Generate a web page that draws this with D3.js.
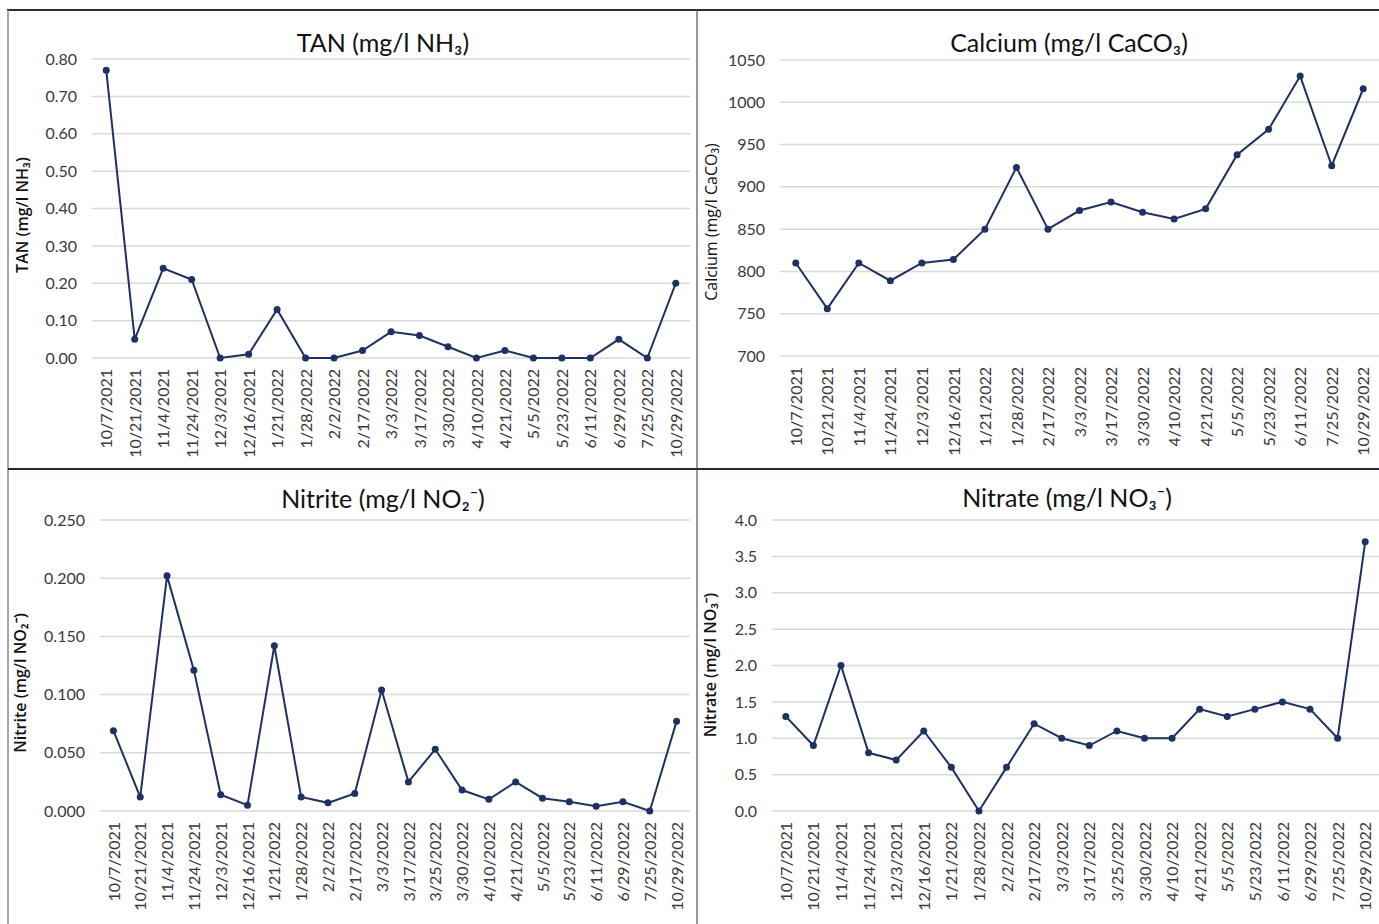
<!DOCTYPE html>
<html>
<head>
<meta charset="utf-8">
<script src="https://cdn.jsdelivr.net/npm/d3@7"></script>
<style>
  body { margin: 0; background: #fff; }
  svg { display: block; }
  .tick text { font-family: Lato, "Open Sans", sans-serif; font-size: 16px; fill: #3a3a3a; }
  .chart-title { font-family: Lato, "Open Sans", sans-serif; font-size: 25px; fill: #111; }
  .y-title { font-family: "Open Sans", sans-serif; font-size: 16px; fill: #111; }
</style>
</head>
<body>
<div id="chart"></div>
<script>
// sample dates for each panel
var datesTAN = ["10/7/2021","10/21/2021","11/4/2021","11/24/2021","12/3/2021","12/16/2021","1/21/2022","1/28/2022","2/2/2022","2/17/2022","3/3/2022","3/17/2022","3/30/2022","4/10/2022","4/21/2022","5/5/2022","5/23/2022","6/11/2022","6/29/2022","7/25/2022","10/29/2022"];
var tanValues = [0.77,0.05,0.24,0.21,0.00,0.01,0.13,0.00,0.00,0.02,0.07,0.06,0.03,0.00,0.02,0.00,0.00,0.00,0.05,0.00,0.20];
var tanTicks = [0,0.1,0.2,0.3,0.4,0.5,0.6,0.7,0.8];

var datesCalcium = ["10/7/2021","10/21/2021","11/4/2021","11/24/2021","12/3/2021","12/16/2021","1/21/2022","1/28/2022","2/17/2022","3/3/2022","3/17/2022","3/30/2022","4/10/2022","4/21/2022","5/5/2022","5/23/2022","6/11/2022","7/25/2022","10/29/2022"];
var calciumValues = [810,756,810,789,810,814,850,923,850,872,882,870,862,874,938,968,1031,925,1016];
var calciumTicks = [700,750,800,850,900,950,1000,1050];

var datesNitrite = ["10/7/2021","10/21/2021","11/4/2021","11/24/2021","12/3/2021","12/16/2021","1/21/2022","1/28/2022","2/2/2022","2/17/2022","3/3/2022","3/17/2022","3/25/2022","3/30/2022","4/10/2022","4/21/2022","5/5/2022","5/23/2022","6/11/2022","6/29/2022","7/25/2022","10/29/2022"];
var nitriteValues = [0.069,0.012,0.202,0.121,0.014,0.005,0.142,0.012,0.007,0.015,0.104,0.025,0.053,0.018,0.010,0.025,0.011,0.008,0.004,0.008,0.000,0.077];
var nitriteTicks = [0,0.05,0.1,0.15,0.2,0.25];

var datesNitrate = datesNitrite;
var nitrateValues = [1.3,0.9,2.0,0.8,0.7,1.1,0.6,0.0,0.6,1.2,1.0,0.9,1.1,1.0,1.0,1.4,1.3,1.4,1.5,1.4,1.0,3.7];
var nitrateTicks = [0,0.5,1,1.5,2,2.5,3,3.5,4];

var lineColor = "#1f3064";

var svg = d3.select("#chart").append("svg")
    .attr("width", 1379)
    .attr("height", 924);

// frame lines between panels
svg.append("line").attr("x1", 7).attr("x2", 1379).attr("y1", 10).attr("y2", 10)
    .style("stroke", "#1f2d4a").style("stroke-width", 2);
svg.append("line").attr("x1", 8).attr("x2", 8).attr("y1", 10).attr("y2", 924)
    .style("stroke", "#8a8a8a").style("stroke-width", 1.5);
svg.append("line").attr("x1", 697).attr("x2", 697).attr("y1", 10).attr("y2", 924)
    .style("stroke", "#555").style("stroke-width", 1.2);
svg.append("line").attr("x1", 8).attr("x2", 1379).attr("y1", 469).attr("y2", 469)
    .style("stroke", "#1f2d4a").style("stroke-width", 2);

function drawPanel(cfg) {
  var x = d3.scalePoint()
    .domain(cfg.dates)
    .range([cfg.left, cfg.right])
    .padding(0.5);

  var y = d3.scaleLinear()
    .domain([cfg.ticks[0], cfg.ticks[cfg.ticks.length - 1]])
    .range([cfg.bottom, cfg.top]);

  var g = svg.append("g");

  // horizontal gridlines
  g.selectAll(".grid")
    .data(cfg.ticks)
    .enter().append("line")
      .attr("x1", cfg.left)
      .attr("x2", cfg.right)
      .attr("y1", function(d) { return y(d); })
      .attr("y2", function(d) { return y(d); })
      .style("stroke", "#d9d9d9")
      .style("stroke-width", 1.5);

  // y axis
  var yAxis = g.append("g")
    .attr("transform", "translate(" + cfg.left + ",0)")
    .call(d3.axisLeft(y).tickValues(cfg.ticks).tickFormat(d3.format(cfg.fmt)).tickSize(0).tickPadding(15));
  yAxis.select(".domain").remove();

  // x axis with rotated date labels
  var xAxis = g.append("g")
    .attr("transform", "translate(0," + cfg.bottom + ")")
    .call(d3.axisBottom(x).tickSize(0));
  xAxis.select(".domain").remove();
  xAxis.selectAll("text")
    .attr("transform", "rotate(-90)")
    .attr("text-anchor", "end")
    .attr("x", -11)
    .attr("y", 0)
    .attr("dy", "0.35em");

  var pts = cfg.dates.map(function(d, i) { return {date: d, value: cfg.values[i]}; });

  g.append("path")
    .datum(pts)
    .attr("d", d3.line()
      .x(function(d) { return x(d.date); })
      .y(function(d) { return y(d.value); }))
    .style("fill", "none")
    .style("stroke", lineColor)
    .style("stroke-width", 2);

  g.selectAll(".dot")
    .data(pts)
    .enter().append("circle")
      .attr("cx", function(d) { return x(d.date); })
      .attr("cy", function(d) { return y(d.value); })
      .attr("r", 3.5)
      .style("fill", lineColor);

  // chart title
  g.append("text")
    .attr("class", "chart-title")
    .attr("x", cfg.titleX)
    .attr("y", cfg.titleY)
    .style("text-anchor", "middle")
    .text(cfg.title);

  // y axis title
  g.append("text")
    .attr("class", "y-title")
    .attr("transform", "translate(" + cfg.yTitleX + "," + cfg.yTitleY + ") rotate(-90)")
    .attr("dy", "0.35em")
    .style("text-anchor", "middle")
    .style("font-weight", cfg.yTitleWeight)
    .text(cfg.yTitle);
}

drawPanel({dates: datesTAN, values: tanValues, ticks: tanTicks, fmt: ".2f",
  left: 92, right: 690, top: 59, bottom: 358,
  title: "TAN (mg/l NH\u2083)", titleX: 383, titleY: 52,
  yTitle: "TAN (mg/l NH\u2083)", yTitleX: 22, yTitleY: 215, yTitleWeight: 600});

drawPanel({dates: datesCalcium, values: calciumValues, ticks: calciumTicks, fmt: "d",
  left: 780, right: 1379, top: 60, bottom: 356,
  title: "Calcium (mg/l CaCO\u2083)", titleX: 1069, titleY: 52,
  yTitle: "Calcium (mg/l CaCO\u2083)", yTitleX: 711, yTitleY: 222, yTitleWeight: 400});

drawPanel({dates: datesNitrite, values: nitriteValues, ticks: nitriteTicks, fmt: ".3f",
  left: 100, right: 690, top: 520, bottom: 811,
  title: "Nitrite (mg/l NO\u2082\u207B)", titleX: 383, titleY: 508,
  yTitle: "Nitrite (mg/l NO\u2082\u207B)", yTitleX: 20, yTitleY: 683, yTitleWeight: 600});

drawPanel({dates: datesNitrate, values: nitrateValues, ticks: nitrateTicks, fmt: ".1f",
  left: 772, right: 1379, top: 520, bottom: 811,
  title: "Nitrate (mg/l NO\u2083\u207B)", titleX: 1067, titleY: 507,
  yTitle: "Nitrate (mg/l NO\u2083\u207B)", yTitleX: 710, yTitleY: 665, yTitleWeight: 600});
</script>
</body>
</html>
